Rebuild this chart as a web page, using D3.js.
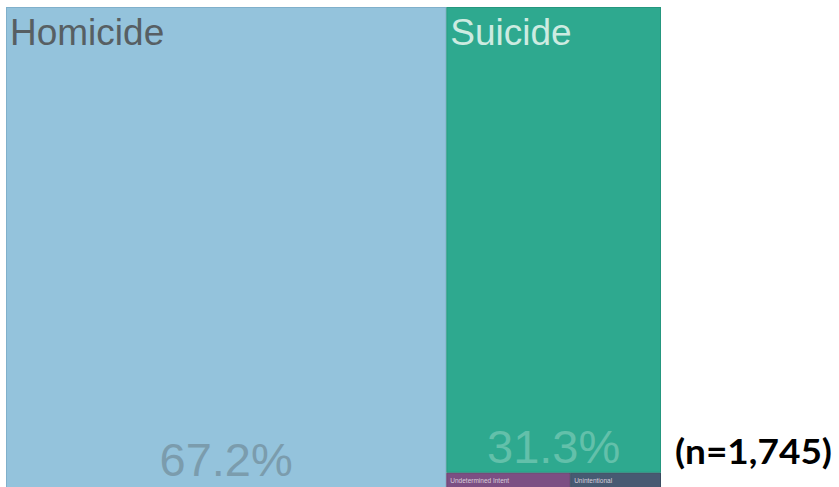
<!DOCTYPE html>
<html><head><meta charset="utf-8">
<script src="https://cdn.jsdelivr.net/npm/d3@7"></script>
<style>body{margin:0;background:#fff;}svg{display:block;}</style>
</head><body>
<svg id="chart" width="839" height="487"></svg>
<script>
const categories = ["Homicide", "Suicide", "Undetermined Intent", "Unintentional"];
const counts = [1173, 546, 15, 11];
const percentLabels = ["67.2%", "31.3%", "", ""];
const fills = ["#94c3dc", "#2ea98f", "#7c4f83", "#475a72"];
const strokes = ["#80b0cb", "#25977f", "#6a4170", "#3a4b60"];
const nLabel = "(n=1,745)";

const svg = d3.select("#chart");
const W = 655, H = 488, X0 = 6, Y0 = 7;

const root = d3.hierarchy({children: categories.map((c, i) => ({name: c, value: counts[i], i}))})
  .sum(d => d.value || 0)
  .sort((a, b) => b.value - a.value);
d3.treemap().size([W, H]).tile(d3.treemapSquarify).round(false)(root);

const g = svg.append("g").attr("transform", `translate(${X0},${Y0})`);
const cells = g.selectAll("g.cell").data(root.leaves()).join("g").attr("class", "cell");
cells.append("rect")
  .attr("x", d => d.x0 + 0.5).attr("y", d => d.y0 + 0.5)
  .attr("width", d => d.x1 - d.x0 - 1).attr("height", d => d.y1 - d.y0 - 1)
  .attr("fill", d => fills[d.data.i]).attr("stroke", d => strokes[d.data.i]).attr("stroke-width", 1);

const big = root.leaves().filter(d => d.data.i < 2);
const nameColors = ["#575f63", "#cdebe1"];
const pctColors = ["#7b9cad", "#63c0aa"];
g.selectAll("text.name").data(big).join("text").attr("class", "name")
  .attr("x", d => d.x0 + 4).attr("y", d => d.y0 + 38)
  .attr("font-family", "Liberation Sans, Arial, sans-serif").attr("font-size", 37)
  .attr("fill", d => nameColors[d.data.i]).text(d => d.data.name);
g.selectAll("text.pct").data(big).join("text").attr("class", "pct")
  .attr("x", d => (d.x0 + d.x1) / 2).attr("y", d => d.y1 - (d.data.i === 0 ? 19 : 10))
  .attr("text-anchor", "middle")
  .attr("font-family", "Liberation Sans, Arial, sans-serif").attr("font-size", 47)
  .attr("fill", d => pctColors[d.data.i]).text(d => percentLabels[d.data.i]);

const small = root.leaves().filter(d => d.data.i >= 2);
g.selectAll("text.small").data(small).join("text").attr("class", "small")
  .attr("x", d => d.x0 + 4).attr("y", d => d.y0 + 10)
  .attr("font-family", "Liberation Sans, Arial, sans-serif").attr("font-size", 6.5)
  .attr("fill", "#d9d0dc").text(d => d.data.name);

svg.append("text").attr("x", 675).attr("y", 464)
  .attr("font-family", "Lato, Carlito, sans-serif").attr("font-weight", "bold").attr("font-size", 34)
  .attr("textLength", 157).attr("lengthAdjust", "spacingAndGlyphs")
  .attr("fill", "#000").text(nLabel);
</script>
</body></html>
